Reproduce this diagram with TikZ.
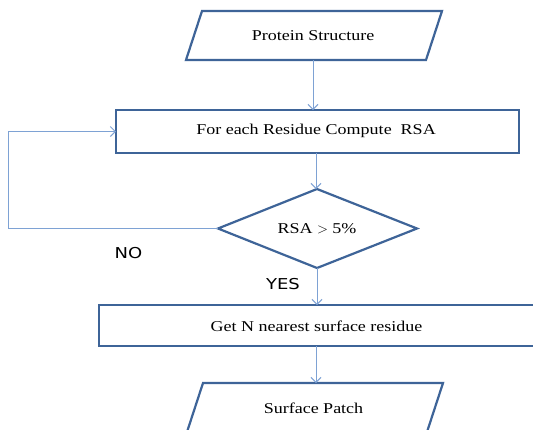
\documentclass[tikz,border=0pt]{standalone}
\usepackage{fontspec}
\setmainfont[FakeStretch=1.2]{Liberation Serif}
\newfontfamily\lblfont[FakeStretch=1.2]{DejaVu Sans}
\usetikzlibrary{arrows.meta,calc}
\definecolor{boxc}{RGB}{62,100,152}
\definecolor{arrc}{RGB}{126,162,212}
\tikzset{
  boxline/.style={draw=boxc,line width=2.2pt,line join=miter},
  flow/.style={draw=arrc,line width=1pt,-{Straight Barb[length=5pt,width=10pt,line width=1pt]}},
  txt/.style={inner sep=0pt,font=\fontsize{15}{17}\selectfont,text=black},
  lbl/.style={inner sep=0pt,font=\lblfont\fontsize{15}{17}\selectfont,text=black},
  frame/.style={inner sep=0pt,outer sep=0pt,draw=none}
}
\begin{document}
\begin{tikzpicture}[x=1pt,y=-1pt]
\useasboundingbox (0,0) rectangle (533,429);
\clip (0,0) rectangle (533,429);
\fill[white] (0,0) rectangle (533,429);
% parallelogram 1
\node[frame,minimum width=240pt,minimum height=49pt] (p1) at (314,35.5) {};
\draw[boxline] ($(p1.north west)+(8,0)$) -- ($(p1.north east)+(8,0)$) -- ($(p1.south east)+(-8,0)$) -- ($(p1.south west)+(-8,0)$) -- cycle;
\node[txt] (p1t) at (313,35.5) {Protein Structure};
% rect 2
\node[frame,boxline,minimum width=403pt,minimum height=43pt] (r2) at (317.5,131.5) {};
\node[txt] (r2t) at (316,131) {For each Residue Compute\hspace{0.3em} RSA};
% diamond
\node[txt] (d) at (317,228.5) {RSA $>$ 5\%};
\coordinate (dn) at (317,189);
\coordinate (ds) at (317,268);
\coordinate (dw) at (218,228.5);
\coordinate (de) at (417,228.5);
\draw[boxline] (dn) -- (de) -- (ds) -- (dw) -- cycle;
% rect 3
\node[frame,boxline,minimum width=436pt,minimum height=41pt] (r3) at (317,325.5) {};
\node[txt] (r3t) at (316.5,326) {Get N nearest surface residue};
% parallelogram 4
\node[frame,minimum width=240pt,minimum height=49pt] (p4) at (315,407.5) {};
\draw[boxline] ($(p4.north west)+(8,0)$) -- ($(p4.north east)+(8,0)$) -- ($(p4.south east)+(-8,0)$) -- ($(p4.south west)+(-8,0)$) -- cycle;
\node[txt] (p4t) at (313.5,408) {Surface Patch};
% labels
\node[lbl] (no) at (128.5,253) {NO};
\node[lbl] (yes) at (283,284) {YES};
% connectors
\coordinate (c1) at (313,60);
\draw[flow] (c1) -- (c1 |- r2.north);
\coordinate (c2) at (316,153);
\draw[flow] (c2) -- (c2 |- dn);
\draw[flow] (ds) -- (ds |- r3.north);
\coordinate (c4) at (316,346);
\draw[flow] (c4) -- (c4 |- p4.north);
\coordinate (lp) at (8.5,228.5);
\draw[flow] (dw) -- (lp) -- (lp |- r2.west) -- (r2.west);
\end{tikzpicture}
\end{document}
